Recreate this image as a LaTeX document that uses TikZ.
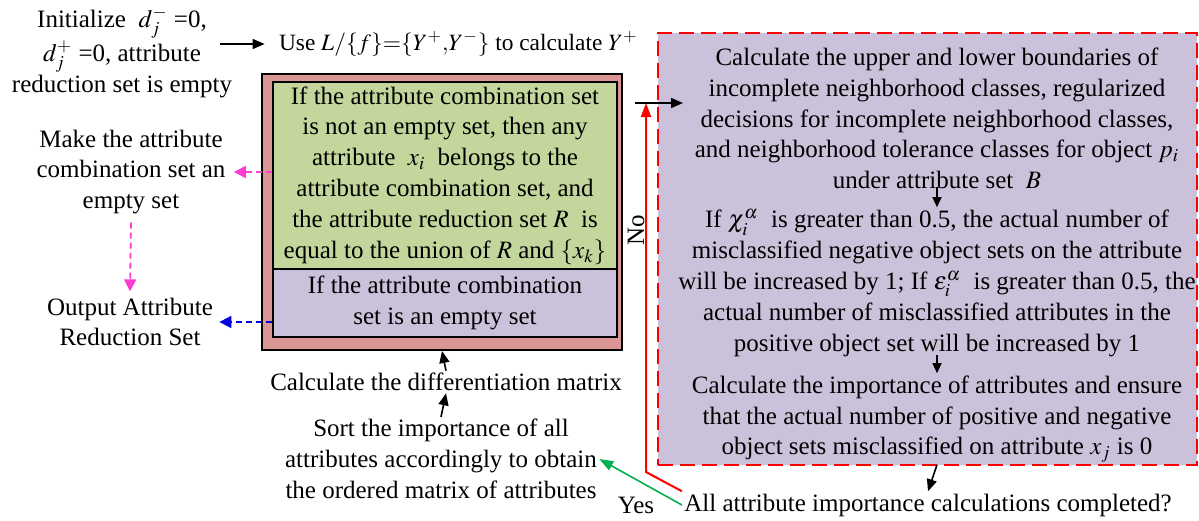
\documentclass[tikz,border=0pt]{standalone}
\usepackage{mathptmx}
\usepackage{fontspec}
\setmainfont{Liberation Serif}
\usetikzlibrary{arrows.meta}
\definecolor{boxpink}{RGB}{217,150,148}
\definecolor{boxgreen}{RGB}{195,214,155}
\definecolor{boxlav}{RGB}{204,193,218}
\definecolor{arrmag}{RGB}{255,60,210}
\definecolor{arrblue}{RGB}{0,0,220}
\definecolor{arrgrn}{RGB}{0,176,80}

\begin{document}
\begin{tikzpicture}[x=0.5pt,y=0.5pt,yscale=-1,
  every node/.style={font=\fontsize{12.5}{15.4}\selectfont},
  txt/.style={align=center,inner sep=1pt},
  box/.style={draw,line width=1pt,inner sep=0pt,align=center},
  arr/.style={-{Triangle[length=6pt,width=5pt]},line width=0.8pt},
  smallarr/.style={-{Triangle[length=5pt,width=4.5pt]},line width=0.7pt,shorten <=-2pt},
  magarr/.style={-{Triangle[length=6pt,width=6pt]},arrmag,line width=0.9pt,dash pattern=on 3pt off 2pt},
  bluarr/.style={-{Triangle[length=6pt,width=6pt]},arrblue,line width=0.9pt,dash pattern=on 3pt off 2pt},
  redarr/.style={-{Triangle[length=7pt,width=5pt]},red,line width=1pt},
  grnarr/.style={-{Triangle[length=7pt,width=5pt]},arrgrn,line width=0.8pt}]
\useasboundingbox (0,0) rectangle (1199,520);
% left column
\node[txt] (init) at (122,52) {Initialize \ $d_j^-$ =0,\\ $d_j^+$ =0, attribute\\ reduction set is empty};
\node[txt,anchor=east,font=\fontsize{11.7}{13.5}\selectfont] (use) at (640,44) {Use $L/\{f\}{=}\{Y^+{,}Y^-\}$ to calculate $Y^+$};
\node[txt,inner sep=4pt] (make) at (131,172) {Make the attribute\\ combination set an\\ empty set};
\node[txt,inner sep=3pt] (output) at (130,322) {Output Attribute\\ Reduction Set};
% reduction box
\node[box,fill=boxpink,minimum width=180pt,minimum height=138pt] (outer) at (442,212) {};
\node[box,fill=boxgreen,minimum width=172pt,minimum height=93.5pt] (green) at (445,175.5) {If the attribute combination set\\ is not an empty set, then any\\ attribute \ $x_i$ \ belongs to the\\ attribute combination set, and\\ the attribute reduction set $R$ \ is\\ equal to the union of $R$ and $\{x_k\}$};
\node[box,fill=boxlav,minimum width=172pt,minimum height=34pt] (empty) at (445,303) {If the attribute combination\\ set is an empty set};
\node[txt] (diff) at (446,382) {Calculate the differentiation matrix};
\node[txt] (sort) at (441,459) {Sort the importance of all\\ attributes accordingly to obtain\\ the ordered matrix of attributes};
% loop box
\node[draw=red,fill=boxlav,line width=1pt,dash pattern=on 7.5pt off 3.5pt,minimum width=269.5pt,minimum height=216pt] (loopbox) at (927.5,249) {};
\node[txt] (bound) at (937,118.5) {Calculate the upper and lower boundaries of\\ incomplete neighborhood classes, regularized\\ decisions for incomplete neighborhood classes,\\ and neighborhood tolerance classes for object $p_i$\\ under attribute set \ $B$};
\node[txt] (miscl) at (937,283) {If $\chi_i^\alpha$ \ is greater than 0.5, the actual number of\\ misclassified negative object sets on the attribute\\ will be increased by 1; If $\varepsilon_i^\alpha$ \ is greater than 0.5, the\\ actual number of misclassified attributes in the\\ positive object set will be increased by 1};
\node[txt] (import) at (937,419) {Calculate the importance of attributes and ensure\\ that the actual number of positive and negative\\ object sets misclassified on attribute $x_j$ is 0};
\node[txt] (done) at (928,505) {All attribute importance calculations completed?};
\node[txt] (yes) at (636,505) {Yes};
\node[txt,rotate=90] (no) at (636,230) {No};
\coordinate (entry) at (635,103);
\coordinate (entryend) at (683,103);
\coordinate (turn) at (646,472);
\coordinate (loopin) at (646,103);
% connectors
\draw[arr,shorten >=6pt] ([xshift=-7pt]init.east |- use.west) -- (use.west);
\draw[magarr] (green.west |- make.east) -- (make.east);
\draw[magarr] (make.south) -- (output.north);
\draw[bluarr] (empty.west |- output.east) -- (output.east);
\draw[arr] (diff.north) -- (outer.south);
\draw[arr] (sort.north) -- (diff.south);
\draw[smallarr] (bound.south) -- (miscl.north);
\draw[smallarr] (miscl.south) -- (import.north);
\draw[arr] (import.south) -- (done.north);
\draw[grnarr] (done.west) -- (sort.east);
\draw[redarr] (done.north west) -- (turn) -- (loopin);
\draw[arr] (entry) -- (entryend);
\end{tikzpicture}
\end{document}
